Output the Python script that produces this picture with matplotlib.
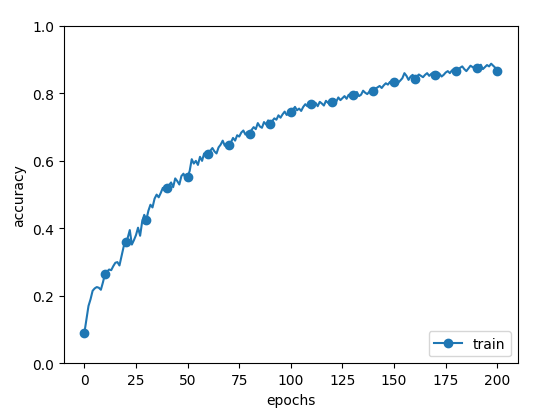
import matplotlib
matplotlib.use("Agg")
import matplotlib.pyplot as plt
import numpy as np

train_acc = [
0.090,0.130,0.170,0.190,0.215,0.222,0.226,0.224,0.218,0.240,
0.265,0.272,0.278,0.276,0.288,0.298,0.300,0.290,0.318,0.345,
0.360,0.372,0.395,0.352,0.365,0.380,0.402,0.378,0.420,0.440,
0.425,0.452,0.470,0.462,0.488,0.500,0.492,0.505,0.520,0.512,
0.520,0.528,0.536,0.522,0.548,0.540,0.530,0.555,0.562,0.548,
0.553,0.570,0.605,0.592,0.600,0.588,0.612,0.600,0.622,0.615,
0.620,0.630,0.638,0.628,0.622,0.640,0.648,0.660,0.645,0.652,
0.648,0.655,0.668,0.660,0.676,0.672,0.684,0.690,0.678,0.686,
0.680,0.692,0.700,0.694,0.712,0.702,0.698,0.715,0.708,0.720,
0.710,0.718,0.726,0.722,0.735,0.728,0.738,0.746,0.736,0.742,
0.745,0.752,0.760,0.750,0.755,0.748,0.760,0.768,0.762,0.770,
0.770,0.766,0.772,0.762,0.775,0.770,0.764,0.778,0.772,0.768,
0.775,0.782,0.776,0.788,0.780,0.786,0.792,0.784,0.796,0.790,
0.795,0.800,0.804,0.792,0.796,0.808,0.802,0.798,0.805,0.812,
0.808,0.814,0.818,0.822,0.816,0.824,0.830,0.826,0.834,0.828,
0.835,0.840,0.832,0.838,0.845,0.860,0.852,0.840,0.850,0.855,
0.843,0.850,0.856,0.852,0.848,0.855,0.860,0.852,0.858,0.862,
0.855,0.862,0.858,0.850,0.855,0.862,0.866,0.860,0.868,0.872,
0.865,0.870,0.876,0.880,0.872,0.866,0.874,0.882,0.878,0.874,
0.875,0.880,0.885,0.872,0.878,0.884,0.880,0.888,0.882,0.876,
0.865]
epochs = np.arange(len(train_acc))

fig = plt.figure(figsize=(5.54, 4.14), dpi=100)
ax = fig.add_axes([0.115, 0.12, 0.82, 0.815])
ax.plot(epochs, train_acc, marker='o', markevery=10, label='train')
ax.set_xlabel('epochs')
ax.set_ylabel('accuracy')
ax.set_ylim(0, 1.0)
ax.legend(loc='lower right')
fig.savefig('out.png', dpi=100)
